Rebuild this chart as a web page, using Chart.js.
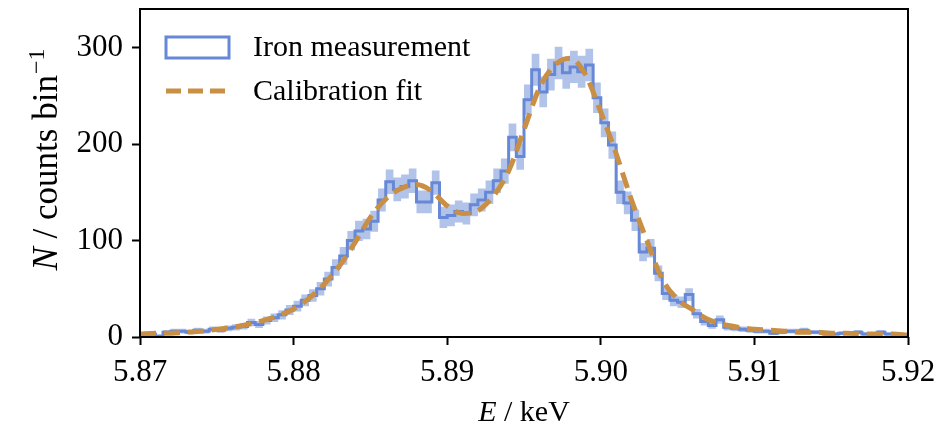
<!DOCTYPE html>
<html>
<head>
<meta charset="utf-8">
<script src="https://cdn.jsdelivr.net/npm/chart.js@4.4.1/dist/chart.umd.min.js"></script>
<style>
  html, body { margin: 0; padding: 0; background: #fff; }
  #wrap { width: 938px; height: 429px; position: relative; }
</style>
</head>
<body>
<div id="wrap"><canvas id="spectrum"></canvas></div>
<script>
/* Fe K-alpha line: measured histogram + calibration fit */

const binStart = 5.87;
const binWidth = 0.0005;

// counts per bin (100 bins, 5.870 .. 5.920 keV)
const counts = [
  4, 3, 3, 1, 5, 6, 6, 5, 7, 6,
  8, 7, 9, 10, 11, 15, 13, 17, 20, 23,
  28, 32, 38, 43, 50, 60, 72, 84, 100, 110,
  112, 120, 142, 161, 153, 156, 162, 140, 140, 160,
  124, 126, 130, 128, 137, 142, 150, 162, 172, 207,
  187, 246, 277, 254, 272, 284, 274, 280, 275, 282,
  248, 222, 199, 150, 139, 121, 88, 92, 66, 45,
  38, 36, 44, 24, 16, 12, 18, 10, 9, 8,
  7, 6, 6, 4, 5, 6, 6, 7, 5, 5,
  3, 3, 4, 4, 5, 3, 3, 5, 3, 2
];

// calibration fit, read at 1 eV steps
const fitE = [
  5.870, 5.871, 5.872, 5.873, 5.874, 5.875, 5.876, 5.877, 5.878, 5.879,
  5.880, 5.881, 5.882, 5.883, 5.884, 5.885, 5.886, 5.887, 5.888, 5.889,
  5.890, 5.891, 5.892, 5.893, 5.894, 5.895, 5.896, 5.897, 5.898, 5.899,
  5.900, 5.901, 5.902, 5.903, 5.904, 5.905, 5.906, 5.907, 5.908, 5.909,
  5.910, 5.911, 5.912, 5.913, 5.914, 5.915, 5.916, 5.917, 5.918, 5.919, 5.920
];
const fitN = [
  3, 4, 4, 5, 6, 8, 10, 13, 17, 22,
  29, 40, 55, 74, 98, 124, 143, 154, 158, 151,
  136, 128, 131, 146, 172, 215, 258, 282, 289, 272,
  233, 190, 142, 100, 60, 39, 28, 18, 13, 10,
  8, 7, 6, 5, 5, 4, 4, 3, 3, 3, 2
];

const xTickValues = [5.87, 5.88, 5.89, 5.90, 5.91, 5.92];
const yTickValues = [0, 100, 200, 300];

const legendLabels = ['Iron measurement', 'Calibration fit'];

const blue = '#6688d6';
const blueBand = 'rgba(102, 136, 214, 0.5)';
const orange = '#c98f45';
const serif = '"Liberation Serif", "DejaVu Serif", serif';

// step points (post) incl. closing edge
const histPts = counts.map((c, i) => ({ x: binStart + i * binWidth, y: c }));
histPts.push({ x: binStart + counts.length * binWidth, y: counts[counts.length - 1] });
const upperPts = histPts.map(p => ({ x: p.x, y: p.y + Math.sqrt(p.y) }));
const lowerPts = histPts.map(p => ({ x: p.x, y: p.y - Math.sqrt(p.y) }));
const fitPts = fitE.map((e, i) => ({ x: e, y: fitN[i] }));

const decor = {
  id: 'decor',
  afterDraw(chart) {
    const { ctx, chartArea: a } = chart;
    ctx.save();

    // frame
    ctx.strokeStyle = '#000';
    ctx.lineWidth = 2;
    ctx.strokeRect(a.left, a.top, a.right - a.left, a.bottom - a.top);

    // legend
    ctx.fillStyle = '#000';
    ctx.font = '30px ' + serif;
    ctx.textBaseline = 'middle';
    ctx.textAlign = 'left';
    ctx.strokeStyle = blue;
    ctx.lineWidth = 3;
    ctx.strokeRect(166, 37, 63, 21);
    ctx.fillText(legendLabels[0], 253, 48);

    ctx.strokeStyle = orange;
    ctx.lineWidth = 5;
    ctx.setLineDash([15, 7]);
    ctx.beginPath();
    ctx.moveTo(166, 91);
    ctx.lineTo(230, 91);
    ctx.stroke();
    ctx.setLineDash([]);
    ctx.fillText(legendLabels[1], 253, 92);

    // x title: E / keV
    ctx.textBaseline = 'alphabetic';
    const xa = 'italic 30px ' + serif, xb = '30px ' + serif;
    ctx.font = xa; const wE = ctx.measureText('E').width;
    ctx.font = xb; const wR = ctx.measureText(' / keV').width;
    let sx = (a.left + a.right) / 2 - (wE + wR) / 2;
    ctx.font = xa; ctx.fillText('E', sx, 421);
    ctx.font = xb; ctx.fillText(' / keV', sx + wE, 421);

    // y title: N / counts bin^-1
    const ya = 'italic 35px ' + serif, yb = '35px ' + serif;
    ctx.translate(57, 160);
    ctx.rotate(-Math.PI / 2);
    const sup = '24px ' + serif;
    ctx.font = ya; const wN = ctx.measureText('N').width;
    ctx.font = yb; const wM = ctx.measureText(' / counts bin').width;
    ctx.font = sup; const wS = ctx.measureText('\u22121').width;
    let sy = -(wN + wM + wS) / 2;
    ctx.font = ya; ctx.fillText('N', sy, 0);
    ctx.font = yb; ctx.fillText(' / counts bin', sy + wN, 0);
    ctx.font = sup; ctx.fillText('\u22121', sy + wN + wM + 1, -13);

    ctx.restore();
  }
};

Chart.defaults.font.family = serif;
Chart.defaults.color = '#000';

new Chart(document.getElementById('spectrum'), {
  type: 'line',
  data: {
    datasets: [
      {
        label: 'upper',
        data: upperPts,
        stepped: 'after',
        borderWidth: 0,
        borderColor: 'rgba(0,0,0,0)',
        backgroundColor: blueBand,
        pointRadius: 0,
        fill: '+1',
        order: 3
      },
      {
        label: 'lower',
        data: lowerPts,
        stepped: 'after',
        borderWidth: 0,
        borderColor: 'rgba(0,0,0,0)',
        pointRadius: 0,
        fill: false,
        order: 4
      },
      {
        label: legendLabels[0],
        data: histPts,
        stepped: 'after',
        borderColor: blue,
        borderWidth: 3,
        pointRadius: 0,
        fill: false,
        order: 2
      },
      {
        label: legendLabels[1],
        data: fitPts,
        borderColor: orange,
        borderWidth: 5,
        borderDash: [16, 8],
        cubicInterpolationMode: 'monotone',
        pointRadius: 0,
        fill: false,
        order: 1
      }
    ]
  },
  options: {
    responsive: true,
    maintainAspectRatio: false,
    animation: false,
    layout: { padding: { top: 9, right: 30, left: 0, bottom: 0 } },
    plugins: {
      legend: { display: false },
      tooltip: { enabled: false }
    },
    scales: {
      x: {
        type: 'linear',
        min: 5.87,
        max: 5.92,
        afterBuildTicks(scale) { scale.ticks = xTickValues.map(v => ({ value: v })); },
        afterFit(scale) {
          scale.height = 92;
          scale.paddingLeft = 0;
          scale.paddingRight = 0;
        },
        ticks: {
          font: { size: 31 },
          padding: 9,
          maxRotation: 0,
          callback: v => v.toFixed(2)
        },
        grid: { drawOnChartArea: false, drawTicks: true, tickLength: 8, tickWidth: 2, tickColor: '#000' },
        border: { display: false }
      },
      y: {
        min: 0,
        max: 340,
        afterBuildTicks(scale) { scale.ticks = yTickValues.map(v => ({ value: v })); },
        afterFit(scale) {
          scale.width = 140;
          scale.paddingTop = 0;
          scale.paddingBottom = 0;
        },
        ticks: { font: { size: 31 }, padding: 9 },
        grid: { drawOnChartArea: false, drawTicks: true, tickLength: 8, tickWidth: 2, tickColor: '#000' },
        border: { display: false }
      }
    }
  },
  plugins: [decor]
});
</script>
</body>
</html>
